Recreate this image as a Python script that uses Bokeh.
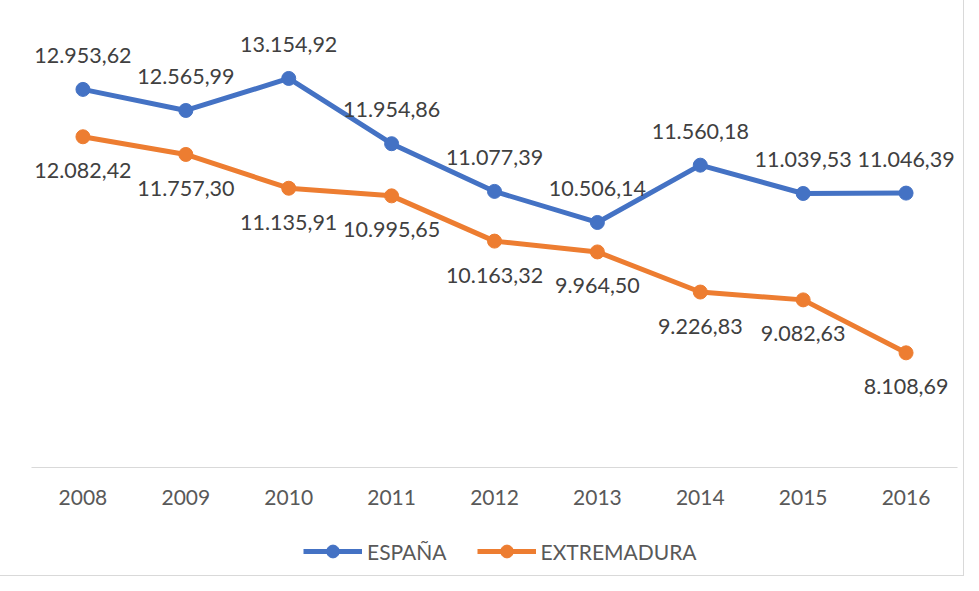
from bokeh.plotting import figure
from bokeh.models import ColumnDataSource, Legend, LegendItem, Range1d, FactorRange
from bokeh.layouts import column
from bokeh.core.properties import value
from bokeh.embed import file_html
from bokeh.resources import INLINE

years = ["2008", "2009", "2010", "2011", "2012", "2013", "2014", "2015", "2016"]
espana = [12953.62, 12565.99, 13154.92, 11954.86, 11077.39, 10506.14, 11560.18, 11039.53, 11046.39]
extremadura = [12082.42, 11757.30, 11135.91, 10995.65, 10163.32, 9964.50, 9226.83, 9082.63, 8108.69]
series_names = ["ESPAÑA", "EXTREMADURA"]

def fmt(v):
    s = f"{v:,.2f}"
    return s.replace(",", "X").replace(".", ",").replace("X", ".")

FONT = "Lato"
BLUE = "#4472C4"
ORANGE = "#ED7D31"

p = figure(width=963, height=520, output_backend="svg", toolbar_location=None,
           x_range=FactorRange(factors=years), y_range=Range1d(6000, 14000),
           y_axis_location=None, min_border_left=31, min_border_right=6,
           min_border_top=32, min_border_bottom=53)
p.outline_line_color = None
p.xgrid.grid_line_color = None
p.ygrid.grid_line_color = None

src_e = ColumnDataSource(dict(x=years, y=espana, t=[fmt(v) for v in espana]))
src_x = ColumnDataSource(dict(x=years, y=extremadura, t=[fmt(v) for v in extremadura]))

p.line("x", "y", source=src_e, line_color=BLUE, line_width=5)
p.scatter("x", "y", source=src_e, size=14, fill_color=BLUE, line_color=BLUE)
p.line("x", "y", source=src_x, line_color=ORANGE, line_width=5)
p.scatter("x", "y", source=src_x, size=14, fill_color=ORANGE, line_color=ORANGE)

p.text("x", "y", text="t", source=src_e, y_offset=-34, text_align="center",
       text_baseline="middle", text_font=value(FONT), text_font_size="21.5px", text_color="#404040")
p.text("x", "y", text="t", source=src_x, y_offset=34, text_align="center",
       text_baseline="middle", text_font=value(FONT), text_font_size="21.5px", text_color="#404040")

ax = p.xaxis[0]
ax.axis_line_color = "#d9d9d9"
ax.axis_line_width = 1
ax.major_tick_line_color = None
ax.minor_tick_line_color = None
ax.major_tick_in = 0
ax.major_tick_out = 0
ax.major_label_standoff = 22
ax.major_label_text_font = FONT
ax.major_label_text_font_size = "21px"
ax.major_label_text_color = "#595959"

# legend strip (same series; data lies outside this strip's view)
p2 = figure(width=963, height=55, output_backend="svg", toolbar_location=None,
            x_range=FactorRange(factors=years), y_range=Range1d(0, 1),
            x_axis_location=None, y_axis_location=None,
            min_border_left=0, min_border_right=0, min_border_top=0, min_border_bottom=0)
p2.outline_line_color = None
p2.xgrid.grid_line_color = None
p2.ygrid.grid_line_color = None
le = p2.line("x", "y", source=src_e, line_color=BLUE, line_width=5)
se = p2.scatter("x", "y", source=src_e, size=14, fill_color=BLUE, line_color=BLUE)
lx = p2.line("x", "y", source=src_x, line_color=ORANGE, line_width=5)
sx = p2.scatter("x", "y", source=src_x, size=14, fill_color=ORANGE, line_color=ORANGE)

legend = Legend(items=[LegendItem(label=series_names[0], renderers=[le, se]),
                       LegendItem(label=series_names[1], renderers=[lx, sx])],
                orientation="horizontal", location=(272, 8),
                glyph_width=59, glyph_height=32, label_standoff=5, spacing=30,
                label_text_font=FONT, label_text_font_size="21px", label_text_color="#595959",
                border_line_color=None, background_fill_alpha=0, padding=0, margin=0)
p2.add_layout(legend)

layout = column(p, p2, spacing=0)
layout.styles = {"outline": "1px solid #d9d9d9"}

open("out.html", "w").write(file_html(layout, INLINE))
